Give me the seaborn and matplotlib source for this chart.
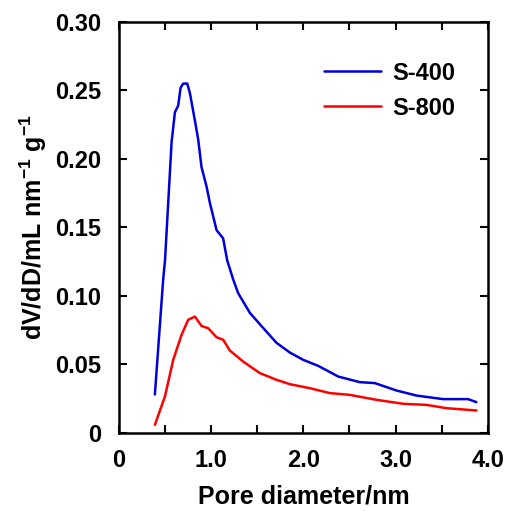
import numpy as np
import pandas as pd
import matplotlib
matplotlib.use("Agg")
import matplotlib.pyplot as plt
import seaborn as sns

# pore size distribution
d_400 = [0.39, 0.48, 0.50, 0.571, 0.607, 0.643, 0.669, 0.697, 0.741, 0.77, 0.824,
         0.86, 0.896, 0.95, 0.986, 1.059, 1.13, 1.174, 1.239, 1.293, 1.42, 1.564,
         1.709, 1.854, 1.998, 2.161, 2.378, 2.612, 2.775, 3.01, 3.227, 3.515,
         3.786, 3.877]
v_400 = [0.028, 0.112, 0.126, 0.212, 0.234, 0.239, 0.252, 0.255, 0.255, 0.248, 0.228,
         0.214, 0.194, 0.180, 0.168, 0.148, 0.142, 0.126, 0.112, 0.102, 0.0876, 0.0766,
         0.0657, 0.0586, 0.0533, 0.0489, 0.0411, 0.037, 0.0363, 0.0309, 0.0272, 0.0246,
         0.0246, 0.0224]

d_800 = [0.39, 0.499, 0.589, 0.679, 0.751, 0.824, 0.896, 0.968, 1.059, 1.131, 1.203,
         1.348, 1.528, 1.709, 1.854, 2.07, 2.287, 2.504, 2.793, 3.082, 3.335, 3.552,
         3.877]
v_800 = [0.0058, 0.0265, 0.0533, 0.0715, 0.0825, 0.0849, 0.078, 0.0764, 0.0698, 0.0679,
         0.0601, 0.052, 0.0436, 0.0387, 0.0355, 0.0326, 0.029, 0.0277, 0.0241, 0.0212,
         0.0204, 0.018, 0.0163]

xtick_labels = ["0", "", "1.0", "", "2.0", "", "3.0", "", "4.0"]
ytick_labels = ["0", "0.05", "0.10", "0.15", "0.20", "0.25", "0.30"]

df = pd.concat([
    pd.DataFrame({"d": d_400, "v": v_400, "sample": "S-400"}),
    pd.DataFrame({"d": d_800, "v": v_800, "sample": "S-800"}),
])

sns.set_style("ticks")
plt.rcParams["font.family"] = ["Liberation Sans", "DejaVu Sans"]
plt.rcParams["font.weight"] = "bold"
plt.rcParams["text.color"] = "black"
plt.rcParams["axes.labelcolor"] = "black"
plt.rcParams["xtick.color"] = "black"
plt.rcParams["ytick.color"] = "black"
plt.rcParams["mathtext.fontset"] = "custom"
plt.rcParams["mathtext.rm"] = "Liberation Sans:bold"
plt.rcParams["mathtext.bf"] = "Liberation Sans:bold"

fig = plt.figure(figsize=(5.06, 5.11), dpi=100)
ax = fig.add_axes([0.235, 0.153, 0.729, 0.804])

sns.lineplot(data=df, x="d", y="v", hue="sample", palette=["#0000dd", "#ff0000"],
             linewidth=1.8, sort=False, ax=ax)

ax.set_xlim(0, 4.0)
ax.set_ylim(0, 0.30)
ax.set_xticks(np.arange(0, 4.01, 0.5))
ax.set_xticklabels(xtick_labels)
ax.set_yticks(np.arange(0, 0.301, 0.05))
ax.set_yticklabels(ytick_labels)
ax.tick_params(direction="in", length=6, width=1.5, top=True, right=True,
               labelsize=17, colors="black")
ax.tick_params(axis="y", pad=13)
ax.tick_params(axis="x", pad=12)
for lab in ax.get_xticklabels() + ax.get_yticklabels():
    lab.set_fontweight("bold")
for s in ax.spines.values():
    s.set_linewidth(1.8)
    s.set_color("black")

ax.set_xlabel("Pore diameter/nm", fontsize=18, fontweight="bold", labelpad=9)
ax.set_ylabel(r"dV/dD/mL nm$^{\mathrm{-1}}$ g$^{\mathrm{-1}}$", fontsize=18,
              fontweight="bold", labelpad=4)

leg = ax.legend(loc="upper right", frameon=False, fontsize=17,
                handlelength=2.4, bbox_to_anchor=(0.97, 0.955), labelspacing=0.5,
                handletextpad=0.5)
for t in leg.get_texts():
    t.set_fontweight("bold")
    t.set_color("black")

fig.savefig("out.png", dpi=100)
